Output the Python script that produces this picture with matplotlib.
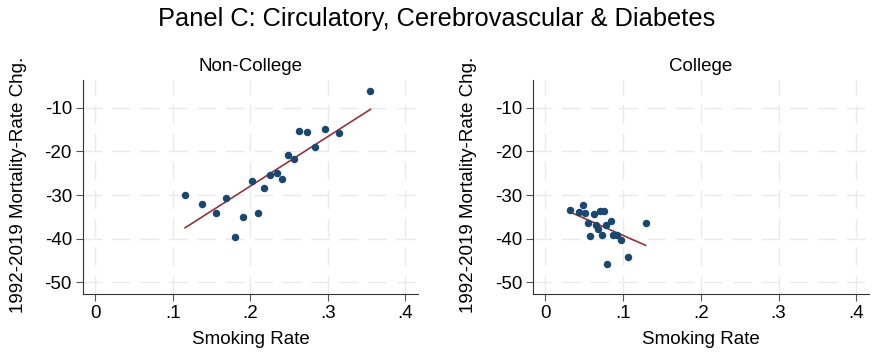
import matplotlib.pyplot as plt

# Non-college panel
nc_smoke = [0.116, 0.138, 0.156, 0.169, 0.181, 0.191, 0.202, 0.210, 0.218, 0.226,
            0.234, 0.241, 0.249, 0.257, 0.263, 0.273, 0.283, 0.296, 0.314, 0.355]
nc_mort = [-29.9, -32.0, -34.0, -30.7, -39.7, -35.0, -26.8, -34.0, -28.5, -25.4,
           -24.9, -26.4, -20.8, -21.7, -15.3, -15.5, -19.1, -14.8, -15.8, -6.3]
nc_fit_x = [0.116, 0.355]
nc_fit_y = [-37.5, -10.4]

# College panel
c_smoke = [0.032, 0.049, 0.044, 0.051, 0.063, 0.071, 0.075, 0.055, 0.065, 0.068,
           0.078, 0.084, 0.058, 0.073, 0.087, 0.092, 0.098, 0.080, 0.106, 0.129]
c_mort = [-33.5, -32.2, -33.9, -34.0, -34.3, -33.6, -33.6, -36.5, -36.8, -37.7,
          -36.9, -36.0, -39.4, -39.2, -39.1, -39.1, -40.4, -45.8, -44.1, -36.5]
c_fit_x = [0.032, 0.129]
c_fit_y = [-33.9, -41.5]

xticks = [0, 0.1, 0.2, 0.3, 0.4]
xlabels = ['0', '.1', '.2', '.3', '.4']
yticks = [-50, -40, -30, -20, -10]

plt.rcParams['font.family'] = ['Liberation Sans', 'DejaVu Sans']
plt.rcParams['axes.unicode_minus'] = False

fig = plt.figure(figsize=(8.74, 3.54), dpi=100)
fig.suptitle('Panel C: Circulatory, Cerebrovascular & Diabetes', fontsize=18.3, y=0.98)

panels = [
    ([0.095, 0.17, 0.383, 0.605], 'Non-College', nc_smoke, nc_mort, nc_fit_x, nc_fit_y),
    ([0.610, 0.17, 0.384, 0.605], 'College', c_smoke, c_mort, c_fit_x, c_fit_y),
]

fs = 13.5
for rect, name, xs, ys, fx, fy in panels:
    ax = fig.add_axes(rect)
    ax.set_xlim(-0.0155, 0.416)
    ax.set_ylim(-52.6, -3.6)
    ax.set_xticks(xticks)
    ax.set_xticklabels(xlabels)
    ax.set_yticks(yticks)
    ax.grid(True, color='#eaeaea', linestyle=(0, (13.5, 7)), linewidth=1.0)
    ax.set_axisbelow(True)
    for s in ['top', 'right']:
        ax.spines[s].set_visible(False)
    for s in ['left', 'bottom']:
        ax.spines[s].set_color('#333333')
    ax.tick_params(direction='out', length=5, color='#555555', labelsize=fs, pad=3)
    ax.scatter(xs, ys, s=29, color='#1a476f', zorder=3, linewidths=0)
    ax.plot(fx, fy, color='#90353b', linewidth=1.2, zorder=2)
    ax.set_title(name, fontsize=fs, pad=6.5)
    ax.set_xlabel('Smoking Rate', fontsize=fs)
    ax.set_ylabel('1992-2019 Mortality-Rate Chg.', fontsize=fs)
    ax.yaxis.set_label_coords(-0.167, 0.51)
    ax.xaxis.set_label_coords(0.5, -0.173)

fig.savefig('out.png', dpi=100)
